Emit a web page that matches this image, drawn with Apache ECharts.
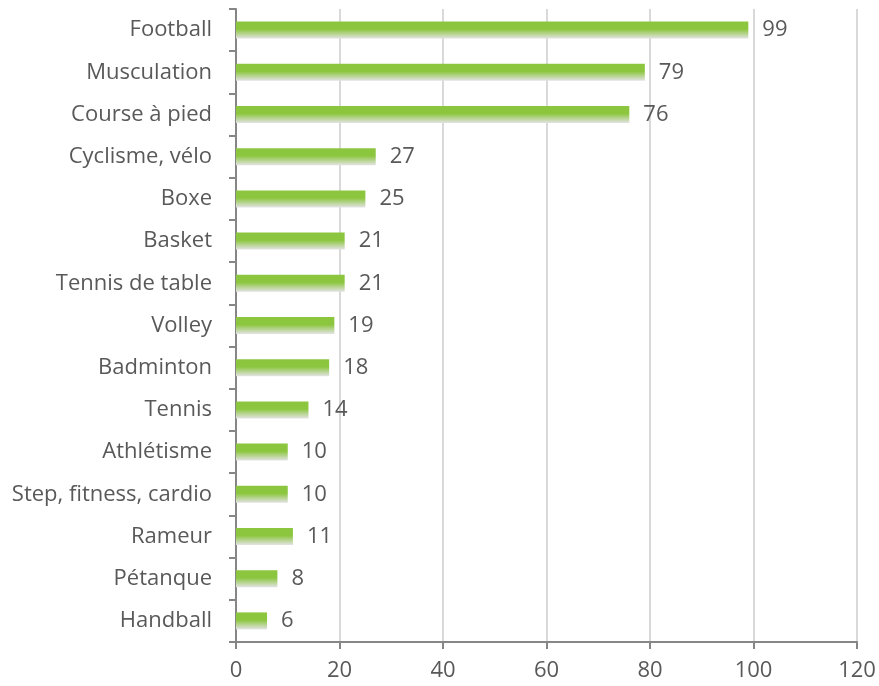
<!DOCTYPE html>
<html>
<head>
<meta charset="utf-8">
<script src="https://cdn.jsdelivr.net/npm/echarts@6/dist/echarts.min.js"></script>
<style>
  html, body { margin: 0; padding: 0; background: #fff; }
  #chart { width: 879px; height: 686px; }
</style>
</head>
<body>
<div id="chart"></div>
<script>
// Sports practised, listed from most to least cited
const sports = [
  'Football', 'Musculation', 'Course à pied', 'Cyclisme, vélo', 'Boxe',
  'Basket', 'Tennis de table', 'Volley', 'Badminton', 'Tennis',
  'Athlétisme', 'Step, fitness, cardio', 'Rameur', 'Pétanque', 'Handball'
];
const counts = [99, 79, 76, 27, 25, 21, 21, 19, 18, 14, 10, 10, 11, 8, 6];
const xTicks = [0, 20, 40, 60, 80, 100, 120];

const textFont = '"Open Sans", sans-serif';
const textGrey = '#595959';
const axisGrey = '#868686';

const chart = echarts.init(document.getElementById('chart'), null, { renderer: 'canvas' });

chart.setOption({
  animation: false,
  backgroundColor: '#ffffff',
  grid: { left: 236, right: 22, top: 9, bottom: 44, containLabel: false },
  xAxis: {
    type: 'value',
    min: xTicks[0],
    max: xTicks[xTicks.length - 1],
    interval: xTicks[1] - xTicks[0],
    axisLine: { show: true, lineStyle: { color: axisGrey, width: 2 } },
    axisTick: { show: true, length: 7, lineStyle: { color: axisGrey, width: 2 } },
    axisLabel: { color: textGrey, fontSize: 22, fontFamily: textFont, margin: 18 },
    splitLine: { show: true, lineStyle: { color: '#d9d9d9', width: 2 } }
  },
  yAxis: {
    type: 'category',
    data: sports,
    inverse: true,
    axisLine: { show: true, lineStyle: { color: axisGrey, width: 2 } },
    axisTick: { show: true, length: 7, lineStyle: { color: axisGrey, width: 2 } },
    axisLabel: { color: textGrey, fontSize: 22, fontFamily: textFont, margin: 24 },
    splitLine: { show: false }
  },
  series: [{
    type: 'bar',
    data: counts,
    barWidth: 17,
    itemStyle: {
      color: new echarts.graphic.LinearGradient(0, 0, 0, 1, [
        { offset: 0, color: '#8cc63f' },
        { offset: 0.45, color: '#8cc63f' },
        { offset: 1, color: '#e3e3e3' }
      ])
    },
    label: {
      show: true,
      position: 'right',
      distance: 14,
      color: textGrey,
      fontSize: 22,
      fontFamily: textFont
    }
  }]
});
</script>
</body>
</html>
